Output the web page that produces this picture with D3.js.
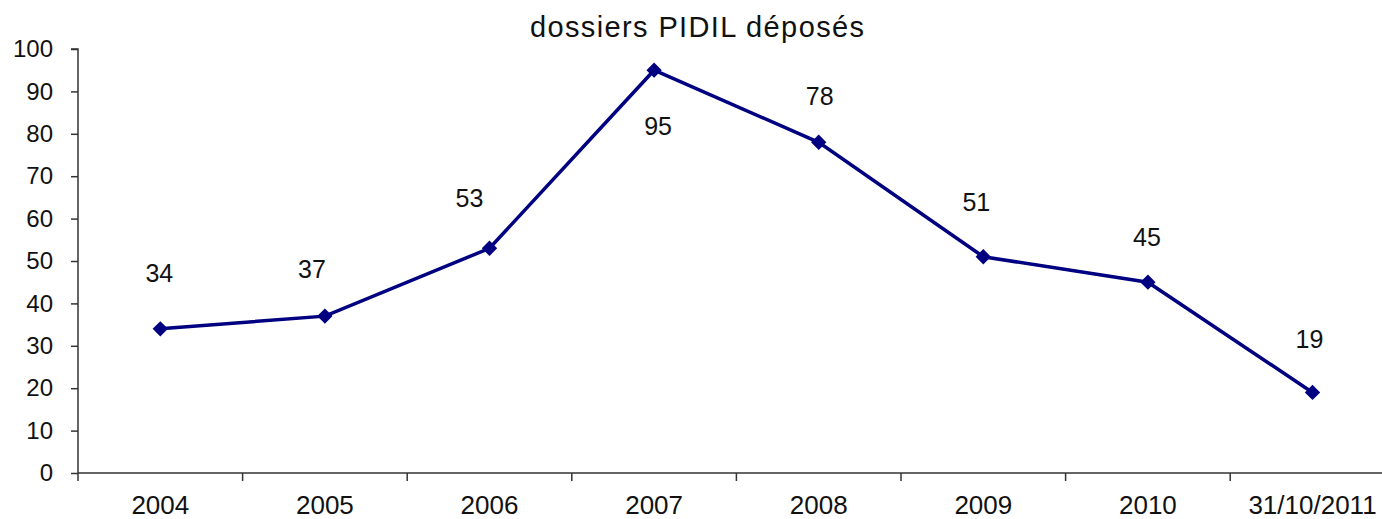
<!DOCTYPE html>
<html><head><meta charset="utf-8">
<script src="https://cdn.jsdelivr.net/npm/d3@7"></script>
<style>body{margin:0;background:#fff}svg{display:block}text{font-family:"Liberation Sans",Arial,sans-serif;fill:#111}</style>
</head><body>
<svg id="c" width="1382" height="519"></svg>
<script>
const categories = ["2004","2005","2006","2007","2008","2009","2010","31/10/2011"];
const values = [34,37,53,95,78,51,45,19];
const yTicks = [0,10,20,30,40,50,60,70,80,90,100];
const title = "dossiers PIDIL déposés";
// manual data-label placement offsets (dx, dy of baseline from the point), as in the picture
const labelDx = [-1,-13,-20,4,1,-7,-1,-3];
const labelDy = [-47,-38,-41,65,-37,-46,-36,-44];

const svg = d3.select("#c");
const x0 = 78, bw = 164.6;
const x = d3.scaleBand().domain(categories).range([x0, x0 + bw*categories.length]);
const y = d3.scaleLinear().domain([0,100]).range([473,49]);

svg.append("text").attr("x",530).attr("y",37).attr("font-size",29)
  .attr("textLength",334).attr("lengthAdjust","spacing").text(title);

// y axis
const ya = svg.append("g").attr("transform",`translate(${x0},0)`).call(d3.axisLeft(y).tickValues(yTicks).tickSize(7).tickPadding(18));
ya.select(".domain").attr("stroke","#333").attr("stroke-width",1.5).attr("d",`M-7,${y(100)}H0V${y(0)}`);
ya.selectAll(".tick line").attr("stroke","#333").attr("stroke-width",1.5);
ya.selectAll(".tick text").attr("font-size",24).attr("font-family","Liberation Sans, Arial, sans-serif").attr("fill","#111");

// x axis
const xa = svg.append("g").attr("transform",`translate(0,${y(0)})`);
xa.append("line").attr("x1",x0).attr("x2",1382).attr("stroke","#333").attr("stroke-width",1.5);
xa.selectAll("line.t").data(categories).enter().append("line").attr("class","t")
  .attr("x1",d=>x(d)).attr("x2",d=>x(d)).attr("y1",0).attr("y2",8).attr("stroke","#333").attr("stroke-width",1.5);
xa.selectAll("text").data(categories).enter().append("text")
  .attr("x",d=>x(d)+x.bandwidth()/2).attr("y",41).attr("text-anchor","middle").attr("font-size",26).text(d=>d);

const cx = (d,i)=>x(categories[i])+x.bandwidth()/2;
const line = d3.line().x((d,i)=>cx(d,i)).y(d=>y(d));
svg.append("path").datum(values).attr("d",line).attr("fill","none").attr("stroke","#000080").attr("stroke-width",3.5);
svg.selectAll("path.m").data(values).enter().append("path").attr("class","m")
  .attr("d",d3.symbol().type(d3.symbolDiamond2).size(150))
  .attr("transform",(d,i)=>`translate(${cx(d,i)},${y(d)})`).attr("fill","#000080");

svg.selectAll("text.lbl").data(values).enter().append("text").attr("class","lbl")
  .attr("x",(d,i)=>cx(d,i)+labelDx[i]).attr("y",(d,i)=>y(d)+labelDy[i])
  .attr("text-anchor","middle").attr("font-size",25).text(d=>d);
</script>
</body></html>
